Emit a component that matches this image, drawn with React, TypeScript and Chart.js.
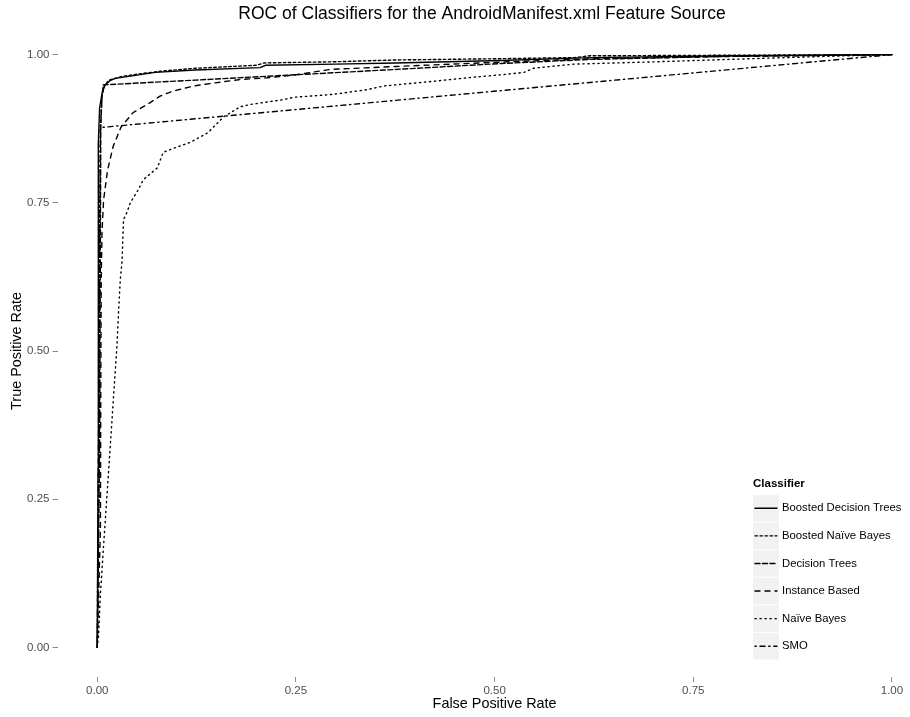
import React, { useEffect, useRef } from "react";
import { Chart, registerables } from "chart.js";

Chart.register(...registerables);

const chartTitle = "ROC of Classifiers for the AndroidManifest.xml Feature Source";
const xAxisTitle = "False Positive Rate";
const yAxisTitle = "True Positive Rate";
const legendTitle = "Classifier";

const classifiers = [
  "Boosted Decision Trees",
  "Boosted Naïve Bayes",
  "Decision Trees",
  "Instance Based",
  "Naïve Bayes",
  "SMO",
];

const xTicks = [0, 0.25, 0.5, 0.75, 1];
const yTicks = [0, 0.25, 0.5, 0.75, 1];

const bdtFpr = [0, 0.001, 0.0012, 0.0015, 0.003, 0.006, 0.01, 0.016, 0.0227, 0.048, 0.073, 0.123, 0.205, 0.212, 0.3, 0.375, 0.508, 0.621, 0.8, 1];
const bdtTpr = [0, 0.3, 0.6, 0.85, 0.91, 0.935, 0.949, 0.956, 0.96, 0.965, 0.97, 0.974, 0.978, 0.982, 0.984, 0.986, 0.99, 0.995, 0.998, 1];

const bnbFpr = [0, 0.0025, 0.003, 0.004, 0.006, 0.009, 0.015, 0.03, 0.05, 0.08, 0.123, 0.2, 0.21, 0.3, 0.375, 0.5, 0.6, 0.62, 0.8, 1];
const bnbTpr = [0, 0.3, 0.7, 0.88, 0.93, 0.948, 0.957, 0.963, 0.967, 0.972, 0.977, 0.982, 0.986, 0.988, 0.991, 0.993, 0.995, 0.998, 0.999, 1];

const dtFpr = [0, 0.003, 0.004, 0.0045, 0.006, 0.0076, 0.123, 0.249, 0.375, 0.508, 0.621, 0.788, 1];
const dtTpr = [0, 0.35, 0.7, 0.88, 0.93, 0.949, 0.957, 0.966, 0.975, 0.985, 0.992, 0.997, 1];

const ibFpr = [0, 0.004, 0.0045, 0.005, 0.006, 0.008, 0.013, 0.02, 0.03, 0.045, 0.063, 0.079, 0.094, 0.121, 0.146, 0.18, 0.214, 0.25, 0.293, 0.375, 0.5, 0.62, 0.8, 1];
const ibTpr = [0, 0.2, 0.45, 0.62, 0.7, 0.755, 0.805, 0.845, 0.878, 0.902, 0.916, 0.93, 0.938, 0.947, 0.952, 0.958, 0.961, 0.966, 0.975, 0.98, 0.987, 0.993, 0.997, 1];

const nbFpr = [0, 0.0016, 0.0038, 0.0079, 0.0122, 0.0164, 0.0205, 0.0248, 0.0268, 0.029, 0.0311, 0.0331, 0.0374, 0.0416, 0.0516, 0.058, 0.0756, 0.083, 0.092, 0.117, 0.139, 0.159, 0.18, 0.193, 0.234, 0.247, 0.297, 0.34, 0.36, 0.423, 0.466, 0.508, 0.537, 0.549, 0.6, 0.705, 0.819, 0.914, 1];
const nbTpr = [0, 0.019, 0.086, 0.17, 0.255, 0.339, 0.423, 0.508, 0.565, 0.621, 0.649, 0.722, 0.734, 0.75, 0.772, 0.789, 0.809, 0.835, 0.84, 0.852, 0.868, 0.895, 0.912, 0.916, 0.924, 0.928, 0.933, 0.941, 0.947, 0.955, 0.961, 0.966, 0.97, 0.977, 0.984, 0.988, 0.993, 0.997, 1];

const smoFpr = [0, 0.004, 1];
const smoTpr = [0, 0.877, 1];

const seriesFpr = [bdtFpr, bnbFpr, dtFpr, ibFpr, nbFpr, smoFpr];
const seriesTpr = [bdtTpr, bnbTpr, dtTpr, ibTpr, nbTpr, smoTpr];

const LW = 1.4;
const U = 1.25;
const dashes: number[][] = [
  [],
  [2 * U, 2 * U],
  [4 * U, 2 * U],
  [4 * U, 4 * U],
  [1 * U, 3 * U],
  [1 * U, 3 * U, 4 * U, 3 * U],
];

const FONT = "'Liberation Sans', Arial, Helvetica, sans-serif";

const decorPlugin = {
  id: "decor",
  afterDraw(chart: any) {
    const ctx: CanvasRenderingContext2D = chart.ctx;
    const ca = chart.chartArea;
    const xs = chart.scales.x;
    ctx.save();
    ctx.fillStyle = "#000";
    ctx.textAlign = "center";
    ctx.textBaseline = "middle";
    ctx.font = `17.5px ${FONT}`;
    ctx.fillText(chartTitle, 482, 14);
    ctx.font = `14.4px ${FONT}`;
    ctx.fillText(xAxisTitle, xs.getPixelForValue(0.5), 704);
    ctx.save();
    ctx.translate(17, (ca.top + ca.bottom) / 2);
    ctx.rotate(-Math.PI / 2);
    ctx.fillText(yAxisTitle, 0, 0);
    ctx.restore();

    // legend
    const lx = 753;
    const keyW = 26;
    const keyH = 26.5;
    const step = 27.6;
    const top0 = 495;
    ctx.textAlign = "left";
    ctx.font = `bold 11.5px ${FONT}`;
    ctx.fillText(legendTitle, lx, 484);
    ctx.font = `11.3px ${FONT}`;
    chart.data.datasets.forEach((ds: any, i: number) => {
      const ty = top0 + i * step;
      ctx.fillStyle = "#f2f2f2";
      ctx.fillRect(lx, ty, keyW, keyH);
      ctx.strokeStyle = "#000";
      ctx.lineWidth = ds.borderWidth;
      ctx.lineCap = "round";
      ctx.setLineDash(ds.borderDash || []);
      ctx.beginPath();
      ctx.moveTo(lx + 2, ty + keyH / 2);
      ctx.lineTo(lx + keyW - 2, ty + keyH / 2);
      ctx.stroke();
      ctx.setLineDash([]);
      ctx.fillStyle = "#000";
      ctx.fillText(ds.label, lx + keyW + 3, ty + keyH / 2);
    });
    ctx.restore();
  },
};

export default function App() {
  const ref = useRef<HTMLCanvasElement | null>(null);
  useEffect(() => {
    if (!ref.current) return;
    const datasets = classifiers.map((name, i) => ({
      label: name,
      data: seriesFpr[i].map((x, j) => ({ x, y: seriesTpr[i][j] })),
      showLine: true,
      borderColor: "#000",
      backgroundColor: "#000",
      borderWidth: LW,
      borderDash: dashes[i],
      borderCapStyle: "round" as const,
      pointRadius: 0,
      tension: 0,
      fill: false,
    }));
    const chart = new Chart(ref.current, {
      type: "scatter",
      data: { datasets },
      options: {
        responsive: false,
        animation: false,
        devicePixelRatio: 1,
        layout: { padding: { top: 25, left: 0, right: 0, bottom: 0 } },
        plugins: { legend: { display: false }, tooltip: { enabled: false }, title: { display: false } },
        scales: {
          x: {
            type: "linear",
            min: -0.05,
            max: 1.0227,
            afterBuildTicks: (s: any) => {
              s.ticks = xTicks.map((v) => ({ value: v }));
            },
            afterFit: (s: any) => {
              s.height = 40;
            },
            border: { display: false },
            grid: { drawOnChartArea: false, drawTicks: true, tickLength: 5, color: "#8a8a8a", lineWidth: 1 },
            ticks: {
              padding: 2,
              color: "#4d4d4d",
              font: { size: 11.5, family: FONT },
              maxRotation: 0,
              autoSkip: false,
              callback: (v: any) => Number(v).toFixed(2),
            },
          },
          y: {
            type: "linear",
            min: -0.05,
            max: 1.05,
            afterBuildTicks: (s: any) => {
              s.ticks = yTicks.map((v) => ({ value: v }));
            },
            afterFit: (s: any) => {
              s.width = 57.5;
            },
            border: { display: false },
            grid: { drawOnChartArea: false, drawTicks: true, tickLength: 5, color: "#8a8a8a", lineWidth: 1 },
            ticks: {
              padding: 3,
              color: "#4d4d4d",
              font: { size: 11.5, family: FONT },
              autoSkip: false,
              callback: (v: any) => Number(v).toFixed(2),
            },
          },
        },
      },
      plugins: [decorPlugin],
    });
    return () => chart.destroy();
  }, []);
  return (
    <div style={{ position: "absolute", left: 0, top: 0, width: 910, height: 717, background: "#fff" }}>
      <canvas ref={ref} width={910} height={717} style={{ display: "block" }} />
    </div>
  );
}
